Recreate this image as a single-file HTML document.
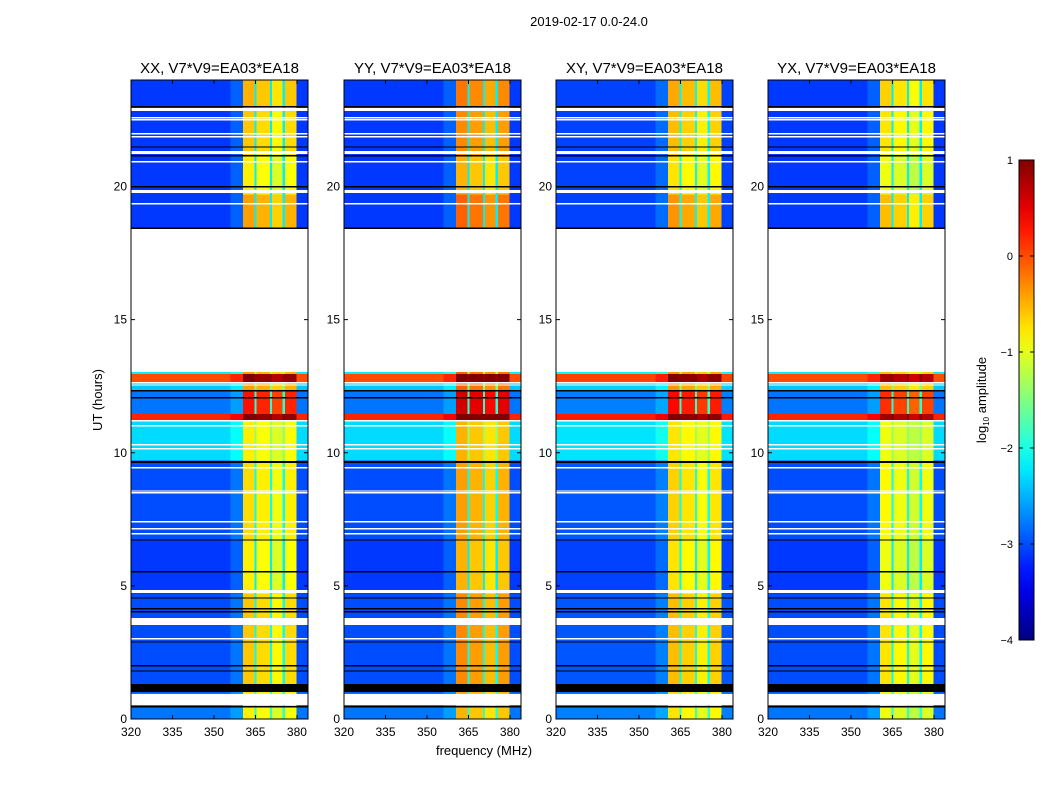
<!DOCTYPE html>
<html><head><meta charset="utf-8">
<style>
body{margin:0;background:#fff;}
svg{display:block;font-family:"Liberation Sans",sans-serif;}
</style></head>
<body>
<svg id="fig" width="1050" height="800" viewBox="0 0 1050 800" xmlns="http://www.w3.org/2000/svg">
<rect width="1050" height="800" fill="#fff"/>
<text x="589" y="26" font-size="13" text-anchor="middle">2019-02-17 0.0-24.0</text>
<text transform="translate(102,400) rotate(-90)" font-size="13" text-anchor="middle">UT (hours)</text>
<text x="484" y="755" font-size="13" text-anchor="middle">frequency (MHz)</text>
<g id="panels"></g>
<g id="cbar"></g>
</svg>
<script>
// ---- data ----
const panelNames = ["XX, V7*V9=EA03*EA18","YY, V7*V9=EA03*EA18","XY, V7*V9=EA03*EA18","YX, V7*V9=EA03*EA18"];
const panelBandOffset = [0, 0.3, 0.05, -0.15];
const panelBgOffset = [0, 0, 0.05, 0];
// time segments: start hour, end hour, background log amp, band log amp
const segStart = [0, 1.0, 4.7, 6.7, 9.7, 11.2, 11.45, 12.3, 12.6, 12.95, 18.44, 19.7, 21.15, 23.0];
const segEnd   = [1.0, 4.7, 6.7, 9.7, 11.2, 11.45, 12.3, 12.6, 12.95, 13.03, 19.7, 21.15, 23.0, 24.0];
const segBg    = [-2.8, -3.0, -3.1, -3.0, -2.3, 0.2, -2.8, -2.4, 0.0, -2.2, -3.1, -3.1, -3.1, -3.1];
const segBand  = [-0.9, -0.7, -0.9, -0.8, -0.9, 0.9, 0.2, -0.5, 0.9, -0.5, -0.5, -0.9, -0.7, -0.6];
// spectral bands (MHz)
const bandLo = [360.5, 365.4, 371.0, 375.6];
const bandHi = [364.6, 370.2, 374.8, 379.9];
const bandRel = [0.1, 0.0, -0.15, 0.0];
// no-data (white) ranges in hours
const whiteLo = [0.53, 2.98, 3.53, 4.73, 6.93, 7.12, 7.38, 8.47, 8.54, 9.41, 10.12, 10.27, 10.98, 11.17, 12.52, 12.60, 13.03, 19.32, 19.76, 20.90, 21.22, 21.84, 21.95, 22.48, 22.55, 22.84];
const whiteHi = [0.94, 3.04, 3.79, 4.85, 6.99, 7.18, 7.44, 8.52, 8.59, 9.47, 10.18, 10.33, 11.04, 11.23, 12.57, 12.65, 18.44, 19.38, 19.87, 20.96, 21.33, 21.90, 22.01, 22.54, 22.61, 22.95];
// flagged (black) lines in hours
const blackLo = [0.43, 1.01, 1.78, 1.97, 2.87, 4.00, 4.11, 4.52, 5.50, 6.70, 9.61, 12.04, 12.30, 18.40, 19.96, 21.13, 21.46, 22.97];
const blackHi = [0.48, 1.31, 1.83, 2.02, 2.92, 4.05, 4.16, 4.57, 5.55, 6.75, 9.69, 12.09, 12.35, 18.46, 20.01, 21.18, 21.51, 23.02];
const xTicks = [320, 335, 350, 365, 380];
const yTicks = [0, 5, 10, 15, 20];
const cbTicks = [1, 0, -1, -2, -3, -4];

// ---- geometry ----
const NS = "http://www.w3.org/2000/svg";
const panelLeft = [131, 344, 556, 768];
const pW = 177, pTop = 80, pBot = 719;
const fMin = 320, fMax = 384, hMin = 0, hMax = 24;
const vmin = -4, vmax = 1;
function xs(left, f){ return left + (f - fMin) / (fMax - fMin) * pW; }
function ys(h){ return pBot - (h - hMin) / (hMax - hMin) * (pBot - pTop); }
function jet(v){
  let t = Math.max(0, Math.min(1, (v - vmin) / (vmax - vmin)));
  const c = x => Math.round(255 * Math.max(0, Math.min(1, 1.5 - Math.abs(4 * t - x))));
  return `rgb(${c(3)},${c(2)},${c(1)})`;
}
function mk(tag, attrs, parent){
  const e = document.createElementNS(NS, tag);
  for (const k in attrs) e.setAttribute(k, attrs[k]);
  parent.appendChild(e); return e;
}
const panels = document.getElementById("panels");
panelLeft.forEach((L, p) => {
  const g = mk("g", {}, panels);
  
  
  const hm = mk("g", {"shape-rendering":"crispEdges"}, g);
  
  
  for (let s = 0; s < segStart.length; s++){
    const y1 = ys(segEnd[s]), y2 = ys(segStart[s]);
    const bg = segBg[s] + panelBgOffset[p];
    const r = mk("rect", {x: xs(L, fMin), y: y1, width: xs(L, fMax) - xs(L, fMin), height: y2 - y1, fill: jet(bg)}, hm);
    
    
    const rr = mk("rect", {x: xs(L, 356), y: y1, width: xs(L, 360.5) - xs(L, 356), height: y2 - y1, fill: jet(bg + 0.2)}, hm);
    
    
    const gr = mk("rect", {x: xs(L, bandLo[0]), y: y1, width: xs(L, bandHi[3]) - xs(L, bandLo[0]), height: y2 - y1, fill: jet(bg + 0.9)}, hm);
    
    
    for (let b = 0; b < bandLo.length; b++){
      const br = mk("rect", {x: xs(L, bandLo[b]), y: y1, width: xs(L, bandHi[b]) - xs(L, bandLo[b]), height: y2 - y1, fill: jet(segBand[s] + bandRel[b] + panelBandOffset[p])}, hm);
      
      
    }
  }
  for (let i = 0; i < whiteLo.length; i++){
    const w = mk("rect", {x: L, y: ys(whiteHi[i]), width: pW, height: ys(whiteLo[i]) - ys(whiteHi[i]), fill: "#fff"}, hm);
    
    
  }
  for (let i = 0; i < blackLo.length; i++){
    const k = mk("rect", {x: L, y: ys(blackHi[i]), width: pW, height: Math.max(1.2, ys(blackLo[i]) - ys(blackHi[i])), fill: "#000"}, hm);
    
    
  }
  const fr = mk("rect", {x: L, y: pTop, width: pW, height: pBot - pTop, fill: "none", stroke: "#000", "stroke-width": 1}, g);
  
  
  const t = mk("text", {x: L + pW/2, y: 73, "font-size": 15, "text-anchor": "middle"}, g);
  t.textContent = panelNames[p];
  
  
  xTicks.forEach(v => {
    const x = xs(L, v);
    mk("line", {x1: x, x2: x, y1: pBot, y2: pBot - 4, stroke: "#000"}, g);
    mk("line", {x1: x, x2: x, y1: pTop, y2: pTop + 4, stroke: "#000"}, g);
    const tl = mk("text", {x: x, y: 736, "font-size": 12, "text-anchor": "middle"}, g);
    tl.textContent = v;
    
    
  });
  yTicks.forEach(v => {
    const y = ys(v);
    mk("line", {x1: L, x2: L + 4, y1: y, y2: y, stroke: "#000"}, g);
    mk("line", {x1: L + pW, x2: L + pW - 4, y1: y, y2: y, stroke: "#000"}, g);
    const tl = mk("text", {x: L - 4, y: y + 4, "font-size": 12, "text-anchor": "end"}, g);
    tl.textContent = v;
    
    
  });
});
// colorbar
const cb = document.getElementById("cbar");


const cbX = 1019, cbW = 15, cbT = 160, cbB = 640;
const defs = mk("defs", {}, cb);
const lg = mk("linearGradient", {id: "jetg", x1: 0, y1: 1, x2: 0, y2: 0}, defs);
for (let i = 0; i <= 20; i++){
  mk("stop", {offset: i/20, "stop-color": jet(vmin + (vmax - vmin) * i / 20)}, lg);
}
mk("rect", {x: cbX, y: cbT, width: cbW, height: cbB - cbT, fill: "url(#jetg)", stroke: "#000"}, cb);
cbTicks.forEach(v => {
  const y = cbB - (v - vmin) / (vmax - vmin) * (cbB - cbT);
  mk("line", {x1: cbX, x2: cbX + 4, y1: y, y2: y, stroke: "#000"}, cb);
  mk("line", {x1: cbX + cbW, x2: cbX + cbW - 4, y1: y, y2: y, stroke: "#000"}, cb);
  const tl = mk("text", {x: cbX - 6, y: y + 4, "font-size": 11, "text-anchor": "end"}, cb);
  tl.textContent = v < 0 ? "\u2212" + (-v) : v;
  
  
});
const cl = mk("text", {transform: "translate(986,400) rotate(-90)", "font-size": 13, "text-anchor": "middle"}, cb);
cl.innerHTML = 'log<tspan font-size="8" dy="3">10</tspan><tspan dy="-3"> amplitude</tspan>';


</script>
</body></html>
